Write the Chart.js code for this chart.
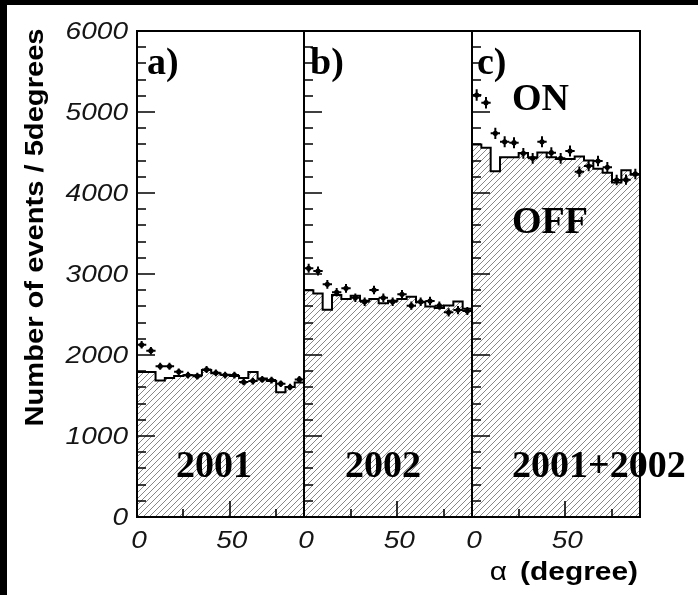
<!DOCTYPE html>
<html>
<head>
<meta charset="utf-8">
<script src="https://cdn.jsdelivr.net/npm/chart.js@4.4.1/dist/chart.umd.min.js"></script>
<style>
  html, body { margin: 0; padding: 0; background: #000; width: 698px; height: 595px; overflow: hidden; }
  #sheet { position: absolute; left: 7px; top: 5px; width: 691px; height: 590px; background: #fff; }
  canvas { position: absolute; left: 0; top: 0; }
</style>
</head>
<body>
<div id="sheet"></div>
<canvas id="panelA" width="698" height="595"></canvas>
<canvas id="panelB" width="698" height="595"></canvas>
<canvas id="panelC" width="698" height="595"></canvas>
<script>
// alpha bin centres (5 degree bins, 0-90 degrees)
const alphaCenters = [2.5, 7.5, 12.5, 17.5, 22.5, 27.5, 32.5, 37.5, 42.5,
                      47.5, 52.5, 57.5, 62.5, 67.5, 72.5, 77.5, 82.5, 87.5];
const binWidth = 5;

// 2001 data
const on2001  = [2126, 2053, 1861, 1861, 1792, 1752, 1739, 1821, 1780,
                 1752, 1752, 1666, 1678, 1699, 1690, 1646, 1605, 1699];
const off2001 = [1790, 1790, 1685, 1715, 1740, 1750, 1750, 1815, 1775,
                 1755, 1740, 1715, 1790, 1710, 1680, 1540, 1605, 1660];

// 2002 data
const on2002  = [3070, 3037, 2873, 2774, 2823, 2707, 2658, 2802, 2707,
                 2658, 2749, 2609, 2658, 2666, 2609, 2527, 2555, 2543];
const off2002 = [2800, 2760, 2560, 2740, 2690, 2730, 2670, 2690, 2640,
                 2670, 2690, 2720, 2650, 2600, 2580, 2610, 2660, 2570];

// 2001+2002 combined
const onAll   = [5210, 5115, 4737, 4633, 4621, 4490, 4428, 4633, 4498,
                 4428, 4518, 4263, 4333, 4395, 4317, 4160, 4165, 4235];
const offAll  = [4600, 4560, 4270, 4440, 4440, 4495, 4440, 4500, 4440,
                 4420, 4420, 4450, 4400, 4300, 4250, 4130, 4280, 4225];

const xTicksStep = 25;     // degrees between x tick marks
const yTicksStep = 200;    // events between y tick marks
const xLabelEvery = 50;
const yLabelEvery = 1000;

const W = 698, H = 595;
const PLOT_TOP = 31, PLOT_BOTTOM = 517;

function hatch(ctx) {
  const s = 6;
  const c = document.createElement('canvas');
  c.width = s; c.height = s;
  const g = c.getContext('2d');
  g.strokeStyle = '#7a7a7a';
  g.lineWidth = 0.9;
  g.beginPath();
  g.moveTo(-1, s + 1); g.lineTo(s + 1, -1);
  g.moveTo(-1, 1); g.lineTo(1, -1);
  g.moveTo(s - 1, s + 1); g.lineTo(s + 1, s - 1);
  g.stroke();
  return ctx.createPattern(c, 'repeat');
}

function stretchText(ctx, text, x, y, font, sx, align) {
  ctx.save();
  ctx.font = font;
  ctx.translate(x, y);
  ctx.scale(sx, 1);
  ctx.textAlign = align;
  ctx.textBaseline = 'alphabetic';
  ctx.fillText(text, 0, 0);
  ctx.restore();
}

const tickFont = 'italic 23px "Liberation Sans"';
const panelFont = 'bold 38px "Liberation Serif"';

// error bars, frame, inward ticks and the labels of one panel
const panelDecor = {
  id: 'panelDecor',
  afterDatasetsDraw(chart) {
    const ctx = chart.ctx;
    const xs = chart.scales.x, ys = chart.scales.y;
    const meta = chart.getDatasetMeta(0);
    const vals = chart.data.datasets[0].data;
    ctx.save();
    ctx.strokeStyle = '#000';
    ctx.lineWidth = 2;
    ctx.beginPath();
    meta.data.forEach((pt, i) => {
      const v = vals[i].y, c = vals[i].x;
      const err = Math.sqrt(v);
      const y1 = ys.getPixelForValue(v + err), y2 = ys.getPixelForValue(v - err);
      const x1 = xs.getPixelForValue(c - binWidth / 2), x2 = xs.getPixelForValue(c + binWidth / 2);
      ctx.moveTo(pt.x, y1); ctx.lineTo(pt.x, y2);
      ctx.moveTo(x1, pt.y); ctx.lineTo(x2, pt.y);
    });
    ctx.stroke();
    ctx.restore();
  },
  afterDraw(chart, args, opts) {
    const ctx = chart.ctx;
    const a = chart.chartArea;
    const xs = chart.scales.x, ys = chart.scales.y;
    ctx.save();
    ctx.strokeStyle = '#000';
    ctx.fillStyle = '#000';
    // inward y ticks on the left edge
    ctx.lineWidth = 1.6;
    ctx.beginPath();
    ys.ticks.forEach(t => {
      if (t.value <= ys.min || t.value >= ys.max) return;
      const y = Math.round(ys.getPixelForValue(t.value));
      const len = t.value % yLabelEvery === 0 ? 18 : 9;
      ctx.moveTo(a.left, y); ctx.lineTo(a.left + len, y);
    });
    // inward x ticks on the bottom edge
    xs.ticks.forEach(t => {
      if (t.value <= xs.min || t.value >= xs.max) return;
      const x = Math.round(xs.getPixelForValue(t.value));
      const len = t.value % xLabelEvery === 0 ? 16 : 8;
      ctx.moveTo(x, a.bottom); ctx.lineTo(x, a.bottom - len);
    });
    ctx.stroke();
    // frame
    ctx.lineWidth = 2;
    ctx.strokeRect(a.left, a.top, a.right - a.left, a.bottom - a.top);

    // tick labels
    ctx.fillStyle = '#151515';
    xs.ticks.forEach(t => {
      if (t.value % xLabelEvery !== 0 || t.value >= xs.max) return;
      const x = xs.getPixelForValue(t.value);
      stretchText(ctx, String(t.value), x + 2, a.bottom + 31, tickFont, 1.22, 'center');
    });
    if (opts.yLabels) {
      ys.ticks.forEach(t => {
        if (t.value % yLabelEvery !== 0) return;
        const y = ys.getPixelForValue(t.value);
        stretchText(ctx, String(t.value), a.left - 9, y + 8, tickFont, 1.22, 'right');
      });
    }

    // panel texts
    ctx.fillStyle = '#000';
    (opts.texts || []).forEach(t => {
      ctx.font = panelFont;
      ctx.textAlign = 'left';
      ctx.textBaseline = 'alphabetic';
      ctx.fillText(t.text, t.x, t.y);
    });

    // axis titles
    if (opts.yTitle) {
      ctx.save();
      ctx.translate(43, 227.5);
      ctx.rotate(-Math.PI / 2);
      ctx.scale(1.12, 1);
      ctx.font = 'bold 26px "Liberation Sans"';
      ctx.textAlign = 'center';
      ctx.textBaseline = 'alphabetic';
      ctx.fillText(opts.yTitle, 0, 0);
      ctx.restore();
    }
    if (opts.xTitle) {
      const right = a.right - 2;
      ctx.save();
      ctx.font = 'bold 26px "Liberation Sans"';
      const w = ctx.measureText(opts.xTitle[1]).width * 1.15;
      ctx.restore();
      stretchText(ctx, opts.xTitle[1], right, 580, 'bold 26px "Liberation Sans"', 1.15, 'right');
      stretchText(ctx, opts.xTitle[0], right - w - 13, 580, '26px "Liberation Sans"', 1.15, 'right');
    }
    ctx.restore();
  }
};

function makePanel(id, onVals, offVals, left, right, decor) {
  const canvas = document.getElementById(id);
  const ctx = canvas.getContext('2d');
  const onPoints = alphaCenters.map((c, i) => ({ x: c, y: onVals[i] }));
  const offSteps = alphaCenters.map((c, i) => ({ x: c - binWidth / 2, y: offVals[i] }));
  const last = alphaCenters.length - 1;
  offSteps.push({ x: alphaCenters[last] + binWidth / 2, y: offVals[last] });

  return new Chart(ctx, {
    type: 'line',
    data: {
      datasets: [
        {
          label: 'ON',
          data: onPoints,
          showLine: false,
          pointRadius: 2.6,
          pointBackgroundColor: '#000',
          pointBorderWidth: 0,
          pointStyle: 'circle'
        },
        {
          label: 'OFF',
          data: offSteps,
          stepped: 'before',
          borderColor: '#000',
          borderWidth: 2,
          pointRadius: 0,
          fill: 'origin',
          backgroundColor: hatch(ctx)
        }
      ]
    },
    options: {
      responsive: false,
      animation: false,
      devicePixelRatio: 1,
      layout: { padding: { left: left, right: W - right, top: PLOT_TOP, bottom: H - PLOT_BOTTOM } },
      plugins: {
        legend: { display: false },
        tooltip: { enabled: false },
        panelDecor: decor
      },
      scales: {
        x: { type: 'linear', min: 0, max: 90, display: false,
             ticks: { stepSize: xTicksStep, autoSkip: false, maxTicksLimit: 100, display: false } },
        y: { type: 'linear', min: 0, max: 6000, display: false,
             ticks: { stepSize: yTicksStep, autoSkip: false, maxTicksLimit: 100, display: false } }
      }
    },
    plugins: [panelDecor]
  });
}

makePanel('panelA', on2001, off2001, 137, 304, {
  yLabels: true,
  yTitle: 'Number of events / 5degrees',
  texts: [{ text: 'a)', x: 147, y: 74 }, { text: '2001', x: 176, y: 477 }]
});
makePanel('panelB', on2002, off2002, 304, 472, {
  texts: [{ text: 'b)', x: 310, y: 74 }, { text: '2002', x: 345, y: 477 }]
});
makePanel('panelC', onAll, offAll, 472, 640, {
  xTitle: ['α', '(degree)'],
  texts: [
    { text: 'c)', x: 477, y: 74 },
    { text: 'ON', x: 512, y: 110 },
    { text: 'OFF', x: 512, y: 233 },
    { text: '2001+2002', x: 512, y: 477 }
  ]
});
</script>
</body>
</html>
